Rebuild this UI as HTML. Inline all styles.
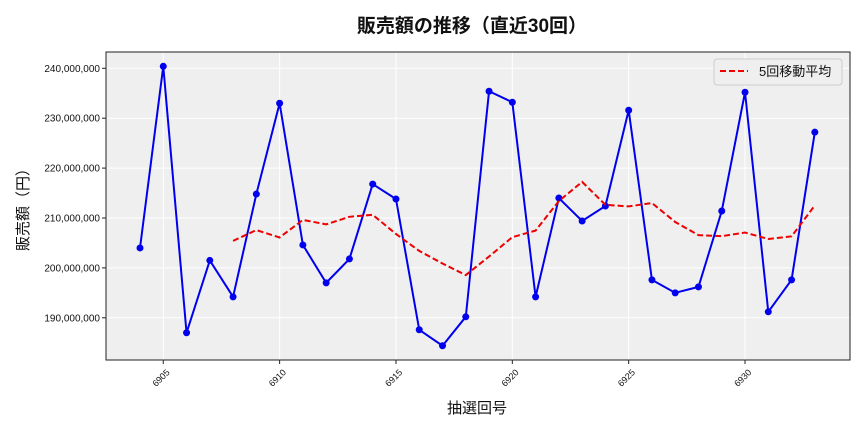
<!DOCTYPE html>
<html><head><meta charset="utf-8"><style>
body{margin:0;background:#fff;}
svg{display:block;font-family:"Liberation Sans","Noto Sans CJK JP",sans-serif;}
</style></head><body>
<svg id="s" width="864" height="432" xmlns="http://www.w3.org/2000/svg">
<rect width="864" height="432" fill="#fff"/>
<rect x="106" y="52" width="744" height="308" fill="#efefef"/>
<g id="grid"></g>
<g id="ser"></g>
<rect x="106" y="52" width="744" height="308" fill="none" stroke="#222" stroke-width="1"/>
<text x="472" y="32" font-size="19" font-weight="bold" text-anchor="middle" fill="#111">販売額の推移（直近30回）</text>
<text x="477" y="413" font-size="15" text-anchor="middle" fill="#111">抽選回号</text>
<text transform="translate(28,206) rotate(-90)" font-size="15" text-anchor="middle" fill="#111">販売額（円）</text>
<rect x="714" y="59" width="128" height="26" rx="3" fill="#efefef" stroke="#ccc"/>
<line x1="720" y1="71" x2="748" y2="71" stroke="#e00" stroke-width="2" stroke-dasharray="6,3"/>
<text x="759" y="76" font-size="13" fill="#111">5回移動平均</text>
</svg>
<script>
const d=[204.0,240.4,187,201.5,194.2,214.8,233,204.6,197,201.8,216.8,213.8,187.6,184.4,190.2,235.4,233.2,194.2,214,209.4,212.4,231.6,197.6,195,196.2,211.4,235.2,191.2,197.6,227.2];
const X=i=>140+i*23.27, Y=v=>68.3+(240-v)*4.99;
const NS="http://www.w3.org/2000/svg";
function el(p,t,a,txt){const e=document.createElementNS(NS,t);for(const k in a)e.setAttribute(k,a[k]);if(txt)e.textContent=txt;p.appendChild(e);return e;}
const g=document.getElementById('grid'),s=document.getElementById('ser');
for(let v=190;v<=240;v+=10){const y=Y(v);el(g,'line',{x1:106,x2:850,y1:y,y2:y,stroke:'#fff','stroke-width':1});
el(g,'line',{x1:102,x2:106,y1:y,y2:y,stroke:'#222'});
el(g,'text',{x:100,y:y+3.5,'font-size':10,'text-anchor':'end',fill:'#111'},v+',000,000');}
for(let n=6905;n<=6930;n+=5){const x=X(n-6904);el(g,'line',{x1:x,x2:x,y1:52,y2:360,stroke:'#fff','stroke-width':1});
el(g,'line',{x1:x,x2:x,y1:360,y2:364,stroke:'#222'});
el(g,'text',{transform:`translate(${x+7},${373}) rotate(-45)`,'font-size':9,'text-anchor':'end',fill:'#111'},String(n));}
el(s,'polyline',{points:d.map((v,i)=>X(i)+','+Y(v)).join(' '),fill:'none',stroke:'#0000ee','stroke-width':2});
d.forEach((v,i)=>el(s,'circle',{cx:X(i),cy:Y(v),r:3.5,fill:'#0000ee'}));
let ma=[];for(let i=4;i<d.length;i++){let m=(d[i]+d[i-1]+d[i-2]+d[i-3]+d[i-4])/5;ma.push(X(i)+','+Y(m));}
el(s,'polyline',{points:ma.join(' '),fill:'none',stroke:'#e00','stroke-width':2,'stroke-dasharray':'6,3'});
</script>
</body></html>
